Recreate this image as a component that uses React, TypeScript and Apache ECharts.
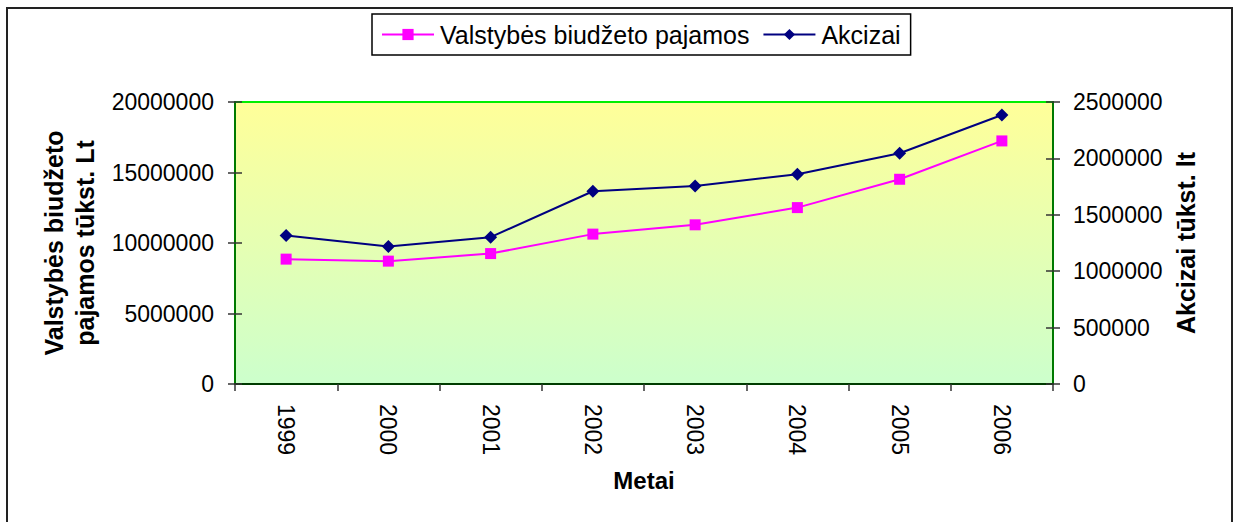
import React, { useEffect, useRef } from "react";
import * as echarts from "echarts";

const years = ["1999", "2000", "2001", "2002", "2003", "2004", "2005", "2006"];
const biudzetoPajamos = [8856000, 8714000, 9250000, 10630000, 11290000, 12510000, 14520000, 17240000];
const akcizai = [1316000, 1219000, 1302000, 1709000, 1756000, 1860000, 2046000, 2385000];
const leftTicks = { min: 0, max: 20000000, interval: 5000000 };
const rightTicks = { min: 0, max: 2500000, interval: 500000 };

const FONT = "'Liberation Sans', Arial, sans-serif";
const plain = (v: number) => String(v);

export default function App() {
  const ref = useRef<HTMLDivElement>(null);
  useEffect(() => {
    if (!ref.current) return;
    const chart = echarts.init(ref.current, undefined, { renderer: "svg" });
    const tickStyle = { color: "#333", width: 1.5 };
    chart.setOption({
      animation: false,
      backgroundColor: "#fff",
      textStyle: { fontFamily: FONT, color: "#000" },
      graphic: [
        {
          type: "rect",
          shape: { x: 7, y: 8, width: 1225, height: 540 },
          style: { fill: "none", stroke: "#222", lineWidth: 2 },
          silent: true,
          z: -10,
        },
      ],
      legend: {
        left: 372,
        top: 14,
        padding: [8, 10, 8, 9],
        borderColor: "#000",
        borderWidth: 1.5,
        backgroundColor: "#fff",
        itemWidth: 52,
        itemHeight: 14,
        itemGap: 13,
        textStyle: { fontFamily: FONT, fontSize: 25, color: "#000", padding: [0, 0, 0, 1] },
        data: ["Valstybės biudžeto pajamos", "Akcizai"],
      },
      grid: {
        left: 235,
        right: 181,
        top: 102,
        bottom: 138,
        show: true,
        borderColor: "#00ee00",
        borderWidth: 2,
        backgroundColor: new echarts.graphic.LinearGradient(0, 0, 0, 1, [
          { offset: 0, color: "#ffff99" },
          { offset: 1, color: "#ccffcc" },
        ]),
      },
      xAxis: {
        type: "category",
        data: years,
        boundaryGap: true,
        name: "Metai",
        nameLocation: "middle",
        nameGap: 84,
        nameTextStyle: { fontFamily: FONT, fontSize: 24, fontWeight: "bold", color: "#000" },
        axisLine: { lineStyle: { color: "#000", width: 1.5 } },
        axisTick: { show: true, length: 7, lineStyle: tickStyle, alignWithLabel: false },
        axisLabel: { rotate: -90, margin: 20, fontSize: 23, fontFamily: FONT, color: "#000" },
        splitLine: { show: false },
      },
      yAxis: [
        {
          type: "value",
          position: "left",
          ...leftTicks,
          name: "Valstybės biudžeto\npajamos tūkst. Lt",
          nameLocation: "middle",
          nameRotate: 90,
          nameGap: 130,
          nameTextStyle: { fontFamily: FONT, fontSize: 25, fontWeight: "bold", color: "#000", lineHeight: 31 },
          axisLine: { show: true, lineStyle: { color: "#007a00", width: 2 } },
          axisTick: { show: true, length: 7, lineStyle: tickStyle },
          axisLabel: { margin: 21, fontSize: 23, fontFamily: FONT, color: "#000", formatter: plain },
          splitLine: { show: false },
        },
        {
          type: "value",
          position: "right",
          ...rightTicks,
          name: "Akcizai tūkst. lt",
          nameLocation: "middle",
          nameRotate: 90,
          nameGap: 114,
          nameTextStyle: { fontFamily: FONT, fontSize: 25, fontWeight: "bold", color: "#000" },
          axisLine: { show: true, lineStyle: { color: "#007a00", width: 2 } },
          axisTick: { show: true, length: 7, lineStyle: tickStyle },
          axisLabel: { margin: 20, fontSize: 23, fontFamily: FONT, color: "#000", formatter: plain },
          splitLine: { show: false },
        },
        {
          type: "value",
          position: "left",
          ...leftTicks,
          axisLine: { show: false },
          axisTick: { show: true, inside: true, length: 7, lineStyle: tickStyle },
          axisLabel: { show: false },
          splitLine: { show: false },
        },
        {
          type: "value",
          position: "right",
          ...rightTicks,
          axisLine: { show: false },
          axisTick: { show: true, inside: true, length: 7, lineStyle: tickStyle },
          axisLabel: { show: false },
          splitLine: { show: false },
        },
      ],
      series: [
        {
          name: "Valstybės biudžeto pajamos",
          type: "line",
          yAxisIndex: 0,
          data: biudzetoPajamos,
          symbol: "rect",
          symbolSize: 11,
          itemStyle: { color: "#ff00ff" },
          lineStyle: { color: "#ff00ff", width: 2 },
        },
        {
          name: "Akcizai",
          type: "line",
          yAxisIndex: 1,
          data: akcizai,
          symbol: "diamond",
          symbolSize: 13,
          itemStyle: { color: "#000080" },
          lineStyle: { color: "#000080", width: 2 },
        },
      ],
    });
    return () => chart.dispose();
  }, []);
  return (
    <div
      ref={ref}
      style={{ position: "absolute", left: 0, top: 0, width: 1234, height: 522 }}
    />
  );
}
